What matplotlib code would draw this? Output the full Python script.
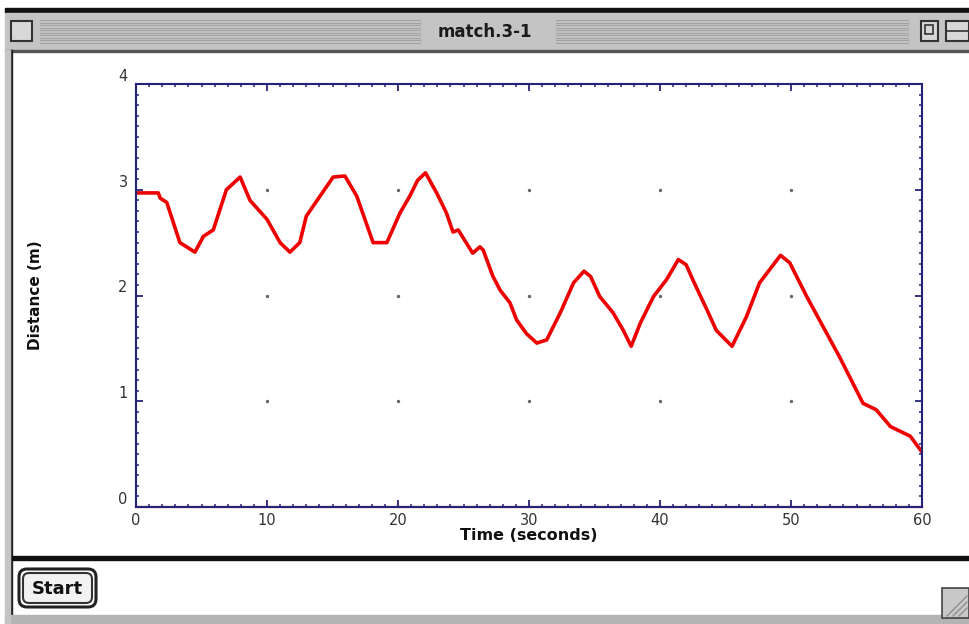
import numpy as np
import matplotlib
matplotlib.use('Agg')
import matplotlib.pyplot as plt
from matplotlib.patches import Rectangle, FancyBboxPatch
from matplotlib.ticker import MultipleLocator

# Données
time_s = [0.0, 1.7, 1.85, 2.35, 3.35, 4.5, 5.15, 5.9, 6.9, 7.95, 8.7, 10.0, 11.0,
          11.75, 12.5, 13.0, 14.05, 15.05, 15.95, 16.85, 18.1, 19.15, 20.15, 20.9,
          21.5, 22.1, 22.95, 23.7, 24.2, 24.6, 25.2, 25.7, 26.25, 26.5, 27.25, 27.8,
          28.55, 29.05, 29.8, 30.6, 31.35, 32.4, 33.4, 34.2, 34.7, 35.4, 36.4, 37.2,
          37.8, 38.5, 39.5, 40.5, 41.4, 42.0, 42.5, 43.6, 44.3, 45.5, 46.6, 47.6,
          49.2, 49.9, 51.2, 53.0, 53.7, 55.5, 56.5, 57.6, 59.1, 60.0]
distance_m = [2.97, 2.97, 2.92, 2.88, 2.50, 2.41, 2.56, 2.62, 3.00, 3.12, 2.90, 2.72,
              2.50, 2.41, 2.50, 2.75, 2.94, 3.12, 3.13, 2.94, 2.50, 2.50, 2.78, 2.94,
              3.09, 3.16, 2.97, 2.78, 2.60, 2.62, 2.50, 2.40, 2.46, 2.43, 2.18, 2.05,
              1.93, 1.77, 1.64, 1.55, 1.58, 1.84, 2.12, 2.23, 2.18, 1.99, 1.84, 1.67,
              1.52, 1.74, 1.99, 2.15, 2.34, 2.29, 2.15, 1.86, 1.67, 1.52, 1.80, 2.12,
              2.38, 2.31, 1.99, 1.58, 1.42, 0.98, 0.92, 0.76, 0.67, 0.52]
baseline_t = [0, 60]
baseline_d = [0, 0]

x_ticks = [0, 10, 20, 30, 40, 50, 60]
y_ticks = [0, 1, 2, 3, 4]

W, H = 969, 624
navy = '#23237a'
fig = plt.figure(figsize=(W / 100, H / 100), dpi=100, facecolor='white')

# Fenêtre façon Mac (coordonnées en pixels)
bg = fig.add_axes([0, 0, 1, 1], zorder=0)
bg.set_xlim(0, W)
bg.set_ylim(H, 0)
bg.axis('off')

bg.add_patch(Rectangle((5, 8), W - 5, 5, color='#111111'))
bg.add_patch(Rectangle((5, 13), W - 5, 37, color='#c4c4c4'))
for yy in np.arange(20, 44, 2.5):
    bg.plot([40, 420], [yy, yy], color='#a2a2a2', lw=0.8)
    bg.plot([556, 908], [yy, yy], color='#a2a2a2', lw=0.8)
bg.add_patch(Rectangle((11, 21), 21, 20, facecolor='#d8d8d8', edgecolor='#333333', lw=1.5))
bg.add_patch(Rectangle((921, 21), 17, 20, facecolor='#d8d8d8', edgecolor='#333333', lw=1.5))
bg.add_patch(Rectangle((925, 25), 8, 9, facecolor='none', edgecolor='#333333', lw=1.2))
bg.add_patch(Rectangle((946, 21), 23, 20, facecolor='#d8d8d8', edgecolor='#333333', lw=1.5))
bg.plot([946, 969], [31, 31], color='#333333', lw=1.2)
bg.text(485, 32, 'match.3-1', ha='center', va='center', fontsize=12,
        fontweight='bold', color='#1a1a1a')

bg.add_patch(Rectangle((5, 50), W - 5, 2, color='#555555'))
bg.add_patch(Rectangle((10, 50), 2.5, 566, color='#222222'))
bg.add_patch(Rectangle((12, 556), W - 12, 4, color='#111111'))
bg.add_patch(Rectangle((5, 615), W - 5, 9, color='#b4b4b4'))
bg.add_patch(Rectangle((5, 50), 5, 574, color='#c4c4c4'))

bg.add_patch(FancyBboxPatch((19, 569), 77, 38, boxstyle='round,pad=0,rounding_size=8',
                            facecolor='white', edgecolor='#222222', lw=2.2))
bg.add_patch(FancyBboxPatch((23, 573), 69, 30, boxstyle='round,pad=0,rounding_size=6',
                            facecolor='#f2f2f2', edgecolor='#333333', lw=1.5))
bg.text(57, 589, 'Start', ha='center', va='center', fontsize=13,
        fontweight='bold', color='#111111')

bg.add_patch(Rectangle((942, 588), 27, 30, facecolor='#c8c8c8', edgecolor='#444444', lw=1.2))
for x0 in [947, 953, 959]:
    bg.plot([x0, 967], [616, 616 - (967 - x0)], color='#8a8a8a', lw=0.9)

# Graphique
ax = fig.add_axes([136 / W, 1 - 507 / H, (922 - 136) / W, (507 - 84) / H], zorder=2)
ax.set_facecolor('white')
ax.plot(baseline_t, baseline_d, color='#ff3030', lw=1.6, zorder=1, clip_on=False)
ax.plot(time_s, distance_m, color='#ee0000', lw=2.6, zorder=3, solid_joinstyle='round')

gx, gy = np.meshgrid(x_ticks[1:-1], y_ticks[1:-1])
ax.scatter(gx.ravel(), gy.ravel(), s=2, color='#666666', zorder=2)

ax.set_xlim(0, 60)
ax.set_ylim(0, 4)
ax.set_xticks(x_ticks)
ax.set_yticks(y_ticks)
ax.xaxis.set_minor_locator(MultipleLocator(1))
ax.yaxis.set_minor_locator(MultipleLocator(0.1))
ax.tick_params(which='both', direction='in', top=True, right=True, color=navy,
               labelcolor='#333333', labelsize=10.5)
ax.tick_params(which='major', length=5, width=1.3)
ax.tick_params(which='minor', length=2.5, width=1.1)
ax.tick_params(axis='x', pad=4)
ax.tick_params(axis='y', pad=6)
for lab in ax.get_yticklabels():
    lab.set_verticalalignment('bottom')
for sp in ax.spines.values():
    sp.set_color(navy)
    sp.set_linewidth(1.5)
    sp.set_zorder(4)

ax.set_xlabel('Time (seconds)', fontsize=11.5, fontweight='bold', labelpad=0, color='#111111')
ax.set_ylabel('Distance (m)', fontsize=11, fontweight='bold', labelpad=54, color='#111111')

fig.savefig('out.png', dpi=100, facecolor='white')
